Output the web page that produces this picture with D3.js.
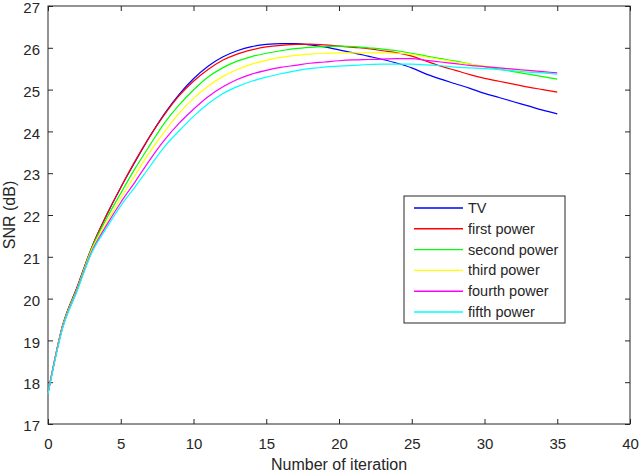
<!DOCTYPE html>
<html><head><meta charset="utf-8">
<script src="https://cdn.jsdelivr.net/npm/d3@7"></script>
<style>body{margin:0;background:#fff}svg{display:block}text{font-family:"Liberation Sans",Arial,sans-serif;fill:#262626}</style>
</head><body><svg id="c" width="640" height="474"></svg>
<script>
const iterations = d3.range(0, 36);
const seriesNames = ["TV","first power","second power","third power","fourth power","fifth power"];
const seriesColors = ["#0000ff","#ff0000","#00ff00","#ffff00","#ff00ff","#00ffff"];
const tv = [17.74,19.35,20.27,21.22,21.98,22.66,23.28,23.88,24.42,24.88,25.26,25.56,25.78,25.93,26.03,26.08,26.10,26.10,26.07,26.02,25.95,25.88,25.80,25.72,25.63,25.52,25.37,25.25,25.14,25.03,24.91,24.81,24.71,24.61,24.51,24.42];
const first = [17.74,19.35,20.27,21.22,21.98,22.66,23.30,23.88,24.40,24.85,25.20,25.48,25.70,25.85,25.95,26.02,26.06,26.08,26.09,26.07,26.04,26.01,25.98,25.93,25.88,25.80,25.68,25.56,25.46,25.36,25.27,25.20,25.13,25.06,25.00,24.94];
const second = [17.74,19.33,20.24,21.20,21.90,22.52,23.12,23.67,24.20,24.63,24.99,25.30,25.52,25.68,25.79,25.87,25.93,25.98,26.01,26.03,26.04,26.03,26.00,25.97,25.93,25.87,25.80,25.74,25.68,25.61,25.55,25.49,25.43,25.37,25.31,25.25];
const third = [17.74,19.32,20.22,21.16,21.80,22.40,22.96,23.51,23.99,24.43,24.79,25.08,25.31,25.48,25.61,25.70,25.77,25.82,25.85,25.87,25.88,25.88,25.88,25.88,25.87,25.84,25.78,25.72,25.66,25.61,25.56,25.52,25.48,25.45,25.42,25.39];
const fourth = [17.74,19.30,20.20,21.12,21.74,22.30,22.80,23.32,23.79,24.19,24.53,24.83,25.06,25.24,25.37,25.46,25.53,25.58,25.63,25.66,25.69,25.71,25.72,25.73,25.74,25.74,25.70,25.66,25.62,25.58,25.55,25.52,25.49,25.46,25.43,25.40];
const fifth = [17.72,19.28,20.18,21.09,21.68,22.22,22.68,23.16,23.63,24.01,24.36,24.66,24.90,25.07,25.20,25.30,25.38,25.45,25.50,25.54,25.56,25.58,25.60,25.61,25.61,25.61,25.59,25.57,25.54,25.52,25.50,25.48,25.45,25.42,25.40,25.37];
const xTicks = [0,5,10,15,20,25,30,35,40];
const yTicks = [17,18,19,20,21,22,23,24,25,26,27];

const allSeries = [tv, first, second, third, fourth, fifth];
const svg = d3.select("#c");
const L = 48, R = 630, T = 6, B = 424;
const x = d3.scaleLinear().domain([0,40]).range([L,R]);
const y = d3.scaleLinear().domain([17,27]).range([B,T]);
const axCol = "#262626";

svg.append("rect").attr("x",L).attr("y",T).attr("width",R-L).attr("height",B-T)
  .attr("fill","#fff").attr("stroke",axCol).attr("stroke-width",1);

const ax = (g) => { g.select(".domain").remove(); g.selectAll("line").attr("stroke",axCol); g.selectAll("text").style("font-size","15px").attr("fill",axCol).style("font-family","'Liberation Sans',Arial,sans-serif"); };
svg.append("g").attr("transform",`translate(0,${B})`)
  .call(d3.axisBottom(x).tickValues(xTicks).tickSizeInner(-5).tickSizeOuter(0).tickPadding(14).tickFormat(d3.format("d")))
  .call(ax);
svg.append("g").attr("transform",`translate(0,${T})`)
  .call(d3.axisTop(x).tickValues(xTicks).tickSizeInner(-5).tickSizeOuter(0).tickFormat(""))
  .call(ax);
svg.append("g").attr("transform",`translate(${L},0)`)
  .call(d3.axisLeft(y).tickValues(yTicks).tickSizeInner(-5).tickSizeOuter(0).tickPadding(8).tickFormat(d3.format("d")))
  .call(ax)
  .call(g => g.selectAll("text").attr("dy","0.45em"));
svg.append("g").attr("transform",`translate(${R},0)`)
  .call(d3.axisRight(y).tickValues(yTicks).tickSizeInner(-5).tickSizeOuter(0).tickFormat(""))
  .call(ax);

const line = d3.line().x((d,i)=>x(iterations[i])).y(d=>y(d)).curve(d3.curveMonotoneX);
allSeries.forEach((s,k)=>{
  svg.append("path").datum(s).attr("d",line).attr("fill","none")
    .attr("stroke",seriesColors[k]).attr("stroke-width",1.2).attr("stroke-linejoin","round");
});

svg.append("text").attr("x",(L+R)/2).attr("y",470).attr("text-anchor","middle")
  .style("font-size","16px").text("Number of iteration");
svg.append("text").attr("transform",`translate(15,${(T+B)/2}) rotate(-90)`).attr("text-anchor","middle")
  .style("font-size","16px").text("SNR (dB)");

const lg = svg.append("g");
lg.append("rect").attr("x",404).attr("y",196).attr("width",161).attr("height",127)
  .attr("fill","#fff").attr("stroke",axCol).attr("stroke-width",1);
seriesNames.forEach((n,k)=>{
  const yy = 208 + k*20.8;
  lg.append("line").attr("x1",414).attr("x2",463).attr("y1",yy).attr("y2",yy)
    .attr("stroke",seriesColors[k]).attr("stroke-width",1.4);
  lg.append("text").attr("x",468).attr("y",yy).attr("dy","0.35em")
    .style("font-size","14.5px").text(n);
});
</script></body></html>
